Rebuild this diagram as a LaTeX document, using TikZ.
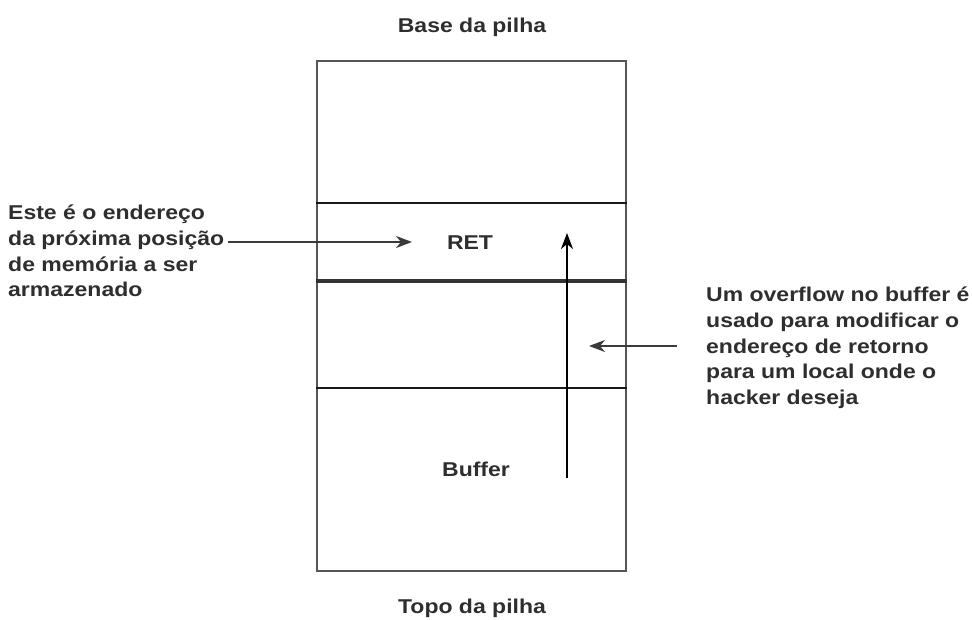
\documentclass[tikz,border=0pt]{standalone}
\usepackage{fontspec}
\setmainfont{Liberation Sans}[FakeStretch=1.15]
\usetikzlibrary{arrows.meta}
\definecolor{txt}{HTML}{2E2E2E}
\definecolor{boxc}{HTML}{555555}
\definecolor{arrc}{HTML}{3A3A3A}
\begin{document}
\begin{tikzpicture}[x=1pt,y=-1pt,
  lbl/.style={font=\fontsize{20}{25.6}\selectfont\bfseries, text=txt, inner sep=0pt, align=left},
  divider/.style={line width=2.2pt, draw=black!90},
  pointer/.style={arrows={-Stealth[length=16pt,width=12pt,inset=5pt]}, line width=2pt, draw=arrc}]
\useasboundingbox (0,0) rectangle (972,620);
% stack box
\node[draw=boxc, line width=2pt, inner sep=0pt, minimum width=309pt, minimum height=510pt, anchor=north west] (stack) at (316,60) {};
\draw[divider] (stack.west |- 0,203) -- (stack.east |- 0,203);
\draw[divider, line width=3.2pt, draw=black!80] (stack.west |- 0,281) -- (stack.east |- 0,281);
\draw[divider] (stack.west |- 0,388) -- (stack.east |- 0,388);
% titles
\node[lbl, anchor=base] (base) at (472,33) {Base da pilha};
\node[lbl, anchor=base] (topo) at (472,613) {Topo da pilha};
\node[lbl, anchor=base] (ret) at (470,250) {RET};
\node[lbl, anchor=base] (buf) at (476,476) {Buffer};
% left note
\node[lbl, anchor=north west] (leftnote) at (8,205) {Este é o endereço\\da próxima posição\\de memória a ser\\armazenado};
\coordinate (lstart) at (228,242);
\coordinate (lend) at (412,242);
\draw[pointer] (lstart) -- (lend);
% right note
\node[lbl, anchor=north west] (rightnote) at (706,287) {Um overflow no buffer é\\usado para modificar o\\endereço de retorno\\para um local onde o\\hacker deseja};
\coordinate (rstart) at (677,346);
\coordinate (rend) at (589,346);
\draw[pointer] (rstart) -- (rend);
% overflow arrow
\coordinate (vstart) at (567,478);
\coordinate (vend) at (567,233);
\draw[pointer, draw=black, fill=black] (vstart) -- (vend);
\end{tikzpicture}
\end{document}
